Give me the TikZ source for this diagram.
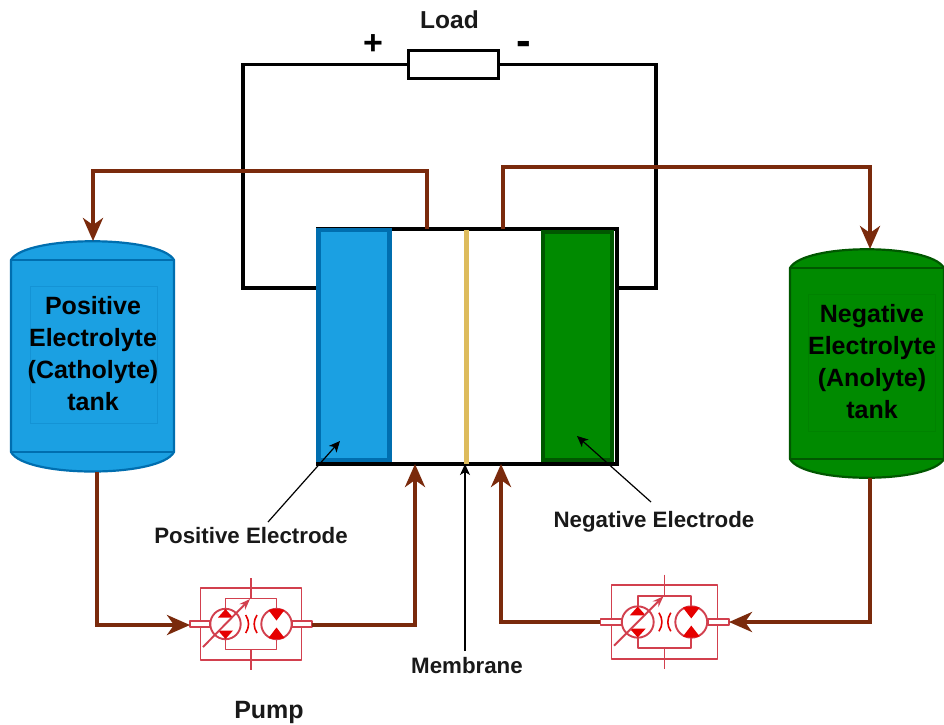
\documentclass[tikz,border=0pt]{standalone}
\usepackage{fontspec}
\setmainfont{Liberation Sans}
\usetikzlibrary{arrows.meta}
\definecolor{brn}{HTML}{7A2A0C}
\definecolor{blu}{HTML}{1BA0E2}
\definecolor{bluD}{HTML}{006EAF}
\definecolor{grn}{HTML}{008A00}
\definecolor{grnD}{HTML}{005700}
\definecolor{mem}{HTML}{DDBB5C}
\definecolor{pl}{HTML}{D2404E}
\definecolor{pf}{HTML}{E60000}
\tikzset{
  x=1pt,y=-1pt,
  wire/.style={draw=black,line width=3.4pt,line join=miter},
  flow/.style={draw=brn,line width=3.8pt,line join=miter,-{Stealth[length=23pt,width=20pt,inset=7pt]}},
  pin/.style={draw=black,line width=1.2pt,-{Stealth[length=11pt,width=10pt,inset=3pt]}},
  lbl/.style={font=\fontsize{22.3}{26}\selectfont\bfseries,inner sep=0pt,text=black!90},
  tanklbl/.style={font=\fontsize{25}{32}\selectfont\bfseries,align=center,inner sep=0pt,text=black},
  sign/.style={font=\fontsize{34}{36}\selectfont\bfseries,inner sep=0pt},
  pline/.style={draw=pl,line width=1.9pt,line join=round},
  pump/.pic={
    \draw[pline] (-50.5,-36) rectangle (50.5,36);
    \draw[pline] (-25.5,-15) -- (-25.5,-25.5) -- (25.5,-25.5) -- (25.5,-15);
    \draw[pline] (-25.5,15) -- (-25.5,25.5) -- (25.5,25.5) -- (25.5,15);
    \draw[pline] (0,-46) -- (0,-25.5);
    \draw[pline] (0,25.5) -- (0,46);
    \draw[pline,fill=white] (-61,-2.8) rectangle (-41,2.8);
    \draw[pline,fill=white] (41,-2.8) rectangle (61,2.8);
    \draw[pline,fill=white] (-25.5,0) circle (15.2);
    \draw[pline,fill=white] (25.5,0) circle (15.2);
    \fill[pf] (-25.5,-15) -- (-33,-6.5) -- (-18,-6.5) -- cycle;
    \fill[pf] (-25.5,15) -- (-33,6.5) -- (-18,6.5) -- cycle;
    \fill[pf] (25.5,-3.5) -- (17.5,-14) .. controls (21,-15.5) and (30,-15.5) .. (33.5,-14) -- cycle;
    \fill[pf] (25.5,3.5) -- (17.5,14) .. controls (21,15.5) and (30,15.5) .. (33.5,14) -- cycle;
    \draw[pline,-{Stealth[length=11pt,width=8pt]}] (-48,23) -- (-1,-25);
    \draw[draw=pf,line width=1.6pt] (-5.3,-9) .. controls (-1.5,-3) and (-1.5,3) .. (-5.3,9);
    \draw[draw=pf,line width=1.6pt] (6,-9) .. controls (2.2,-3) and (2.2,3) .. (6,9);
  }
}
\newcommand{\tankbody}[7]{% left right top shTop shBot bot, style
  \draw[#7,line width=2.2pt,line join=round]
    (#1,#4) .. controls (#1+14,#3-6) and (#2-14,#3-6) .. (#2,#4)
    -- (#2,#5) .. controls (#2-14,#6+6) and (#1+14,#6+6) .. (#1,#5) -- cycle;
  \draw[#7,line width=2.2pt] (#1,#4) -- (#2,#4) (#1,#5) -- (#2,#5);
}
\begin{document}
\begin{tikzpicture}
\useasboundingbox[fill=white] (0,0) rectangle (944,724);

% coordinates
\coordinate (cellTA) at (427,229);
\coordinate (cellTB) at (503,229);
\coordinate (cellBA) at (415,464);
\coordinate (cellBB) at (501,464);
\coordinate (tankAtop) at (93,241);
\coordinate (tankAbot) at (97,472);
\coordinate (tankBtop) at (870,249);
\coordinate (tankBbot) at (870,478);
\coordinate (wireLA) at (385,64.5);
\coordinate (wireRA) at (524,64.5);
\coordinate (cellL) at (318,288);
\coordinate (cellR) at (617,288);

% circuit
\node[draw=black,line width=3.4pt,fill=white,minimum width=90pt,minimum height=28pt,inner sep=0pt] (load) at (453.5,64.5) {};
\draw[wire] (load.west) -- (wireLA) -- (243,64.5) -- (243,288) -- (cellL);
\draw[wire] (load.east) -- (wireRA) -- (656,64.5) -- (656,288) -- (cellR);

% tanks
\tankbody{11}{174}{241}{260}{452}{472}{fill=blu,draw=bluD}
\tankbody{790}{944}{249}{268}{459}{478}{fill=grn,draw=grnD}
\node[draw=bluD!25!blu,line width=.4pt,minimum width=127pt,minimum height=137pt,inner sep=0pt] (boxA) at (93.5,354.5) {};
\node[draw=grnD!15!grn,line width=.4pt,minimum width=127pt,minimum height=137pt,inner sep=0pt] (boxB) at (872,362.5) {};
\node[tanklbl] (tankA) at (93,354) {Positive\\Electrolyte\\(Catholyte)\\tank};
\node[tanklbl] (tankB) at (872,362) {Negative\\Electrolyte\\(Anolyte)\\tank};

% cell
\node[draw=black,line width=3.4pt,fill=white,minimum width=299pt,minimum height=235pt,inner sep=0pt] (cell) at (467.5,346.5) {};
\node[draw=grnD,fill=grn,line width=4.6pt,minimum width=69pt,minimum height=228pt,inner sep=0pt] (neg) at (577.5,346) {};
\node[draw=bluD,fill=blu,line width=4.6pt,minimum width=71pt,minimum height=230pt,inner sep=0pt] (pos) at (354,345) {};
\node[fill=mem,minimum width=5.5pt,minimum height=234pt,inner sep=0pt] (memb) at (466.5,346.5) {};

% pumps
\path (251,624) pic {pump};
\path (664.5,622) pic[xscale=1.05,yscale=1.03] {pump};
\coordinate (pAin) at (190,625);
\coordinate (pAout) at (312,625);
\coordinate (pBin) at (729,622);
\coordinate (pBout) at (600,622);

% flow
\draw[flow] (cellTA) -- (427,171) -- (93,171) -- (tankAtop);
\draw[flow] (cellTB) -- (503,167) -- (870,167) -- (tankBtop);
\draw[flow] (tankAbot) -- (97,625) -- (pAin);
\draw[flow] (pAout) -- (415,625) -- (cellBA);
\draw[flow] (tankBbot) -- (870,622) -- (pBin);
\draw[flow] (pBout) -- (501,622) -- (cellBB);

% labels
\node[lbl,font=\fontsize{24.5}{26}\selectfont\bfseries] (loadL) at (449.5,20) {Load};
\node[sign] (plus) at (373,45) {+};
\node[sign,font=\fontsize{44}{46}\selectfont\bfseries] (minus) at (524,48) {-};
\node[lbl] (posL) at (251,536) {Positive Electrode};
\node[lbl] (negL) at (654,522) {Negative Electrode};
\node[lbl] (memL) at (467,666) {Membrane};
\node[lbl,font=\fontsize{25}{26}\selectfont\bfseries] (pumpL) at (269,712) {Pump};

\draw[pin] (268,522) -- (340,441);
\draw[pin] (651,502) -- (577,436);
\draw[pin] (465,651) -- (465,464);
\end{tikzpicture}
\end{document}
